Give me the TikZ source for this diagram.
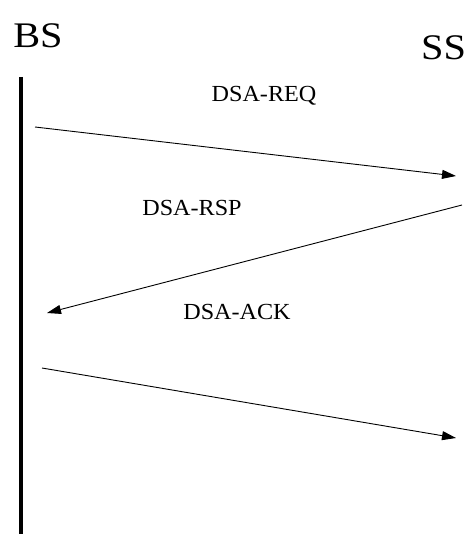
\documentclass[tikz,border=0pt]{standalone}
\usepackage{fontspec}
\setmainfont{Liberation Serif}
\usetikzlibrary{arrows.meta}
\begin{document}
\begin{tikzpicture}[x=1pt,y=-1pt,
  party/.style={font=\fontsize{36}{36}\selectfont, xscale=1.12, inner sep=0pt},
  msglabel/.style={font=\fontsize{23}{23}\selectfont, xscale=1.05, inner sep=0pt},
  msg/.style={line width=0.9pt, -{Triangle[length=14pt,width=9pt]}}]
  \useasboundingbox (0,0) rectangle (468,534);
  % station names
  \node[party] (bs) at (38,36) {BS};
  \node[party, anchor=west] (ss) at (421,48) {SS};
  % base station time line
  \coordinate (top) at (21,77);
  \coordinate (bot) at (21,534);
  \draw[line width=4pt] (top) -- (bot);
  % message end points
  \coordinate (r1) at (35,127);  \coordinate (r2) at (456,176);
  \coordinate (p1) at (462,205); \coordinate (p2) at (47,313);
  \coordinate (a1) at (42,368);  \coordinate (a2) at (456,438);
  % messages
  \node[msglabel] (req) at (264,96) {DSA-REQ};
  \draw[msg] (r1) -- (r2);
  \node[msglabel] (rsp) at (192,208) {DSA-RSP};
  \draw[msg] (p1) -- (p2);
  \node[msglabel] (ack) at (237,312) {DSA-ACK};
  \draw[msg] (a1) -- (a2);
\end{tikzpicture}
\end{document}
